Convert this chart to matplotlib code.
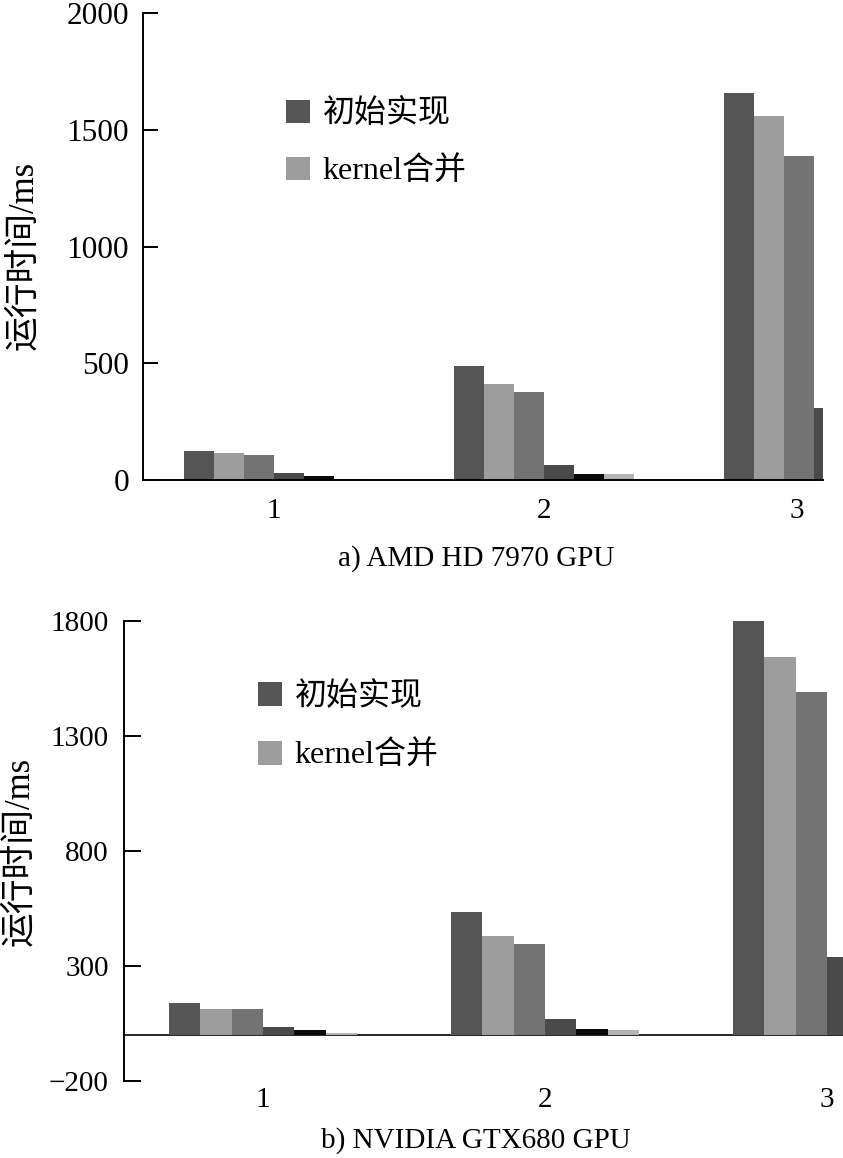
import numpy as np
import matplotlib
matplotlib.use('Agg')
import matplotlib.pyplot as plt
from matplotlib.transforms import ScaledTranslation

plt.rcParams['font.family'] = ['Liberation Serif', 'Noto Sans CJK SC']
plt.rcParams['axes.unicode_minus'] = True

# data (ms), one list per bar series
groups = ['1', '2', '3']
legend_labels = ['初始实现', 'kernel合并']
amd_s1 = [124, 488, 1656]
amd_s2 = [114, 410, 1559]
amd_s3 = [107, 376, 1389]
amd_s4 = [29, 63, 310]
amd_s5 = [17, 24, 110]
amd_s6 = [3, 24, 95]
nv_s1 = [140, 534, 1799]
nv_s2 = [114, 429, 1642]
nv_s3 = [114, 394, 1492]
nv_s4 = [35, 71, 338]
nv_s5 = [22, 28, 120]
nv_s6 = [7, 23, 100]
amd_ticks = [0, 500, 1000, 1500, 2000]
nv_ticks = [-200, 300, 800, 1300, 1800]

colors = ['#555555', '#9d9d9d', '#737373', '#4a4a4a', '#0a0a0a', '#b3b3b3']
fs = 21
w = 1.0 / 9

fig = plt.figure(figsize=(8.43, 11.58), dpi=100)
ax1 = fig.add_axes([143/843, (1158-480)/1158, 680/843, 467/1158])
ax2 = fig.add_axes([124/843, (1158-1081)/1158, 719/843, 460/1158])

x = np.arange(1, len(groups) + 1)

def draw(ax, series):
    bars = []
    for i, vals in enumerate(series):
        b = ax.bar(x + (i - 2.5) * w, vals, width=w, color=colors[i], linewidth=0, zorder=2)
        bars.append(b)
    return bars

bars1 = draw(ax1, [amd_s1, amd_s2, amd_s3, amd_s4, amd_s5, amd_s6])
bars2 = draw(ax2, [nv_s1, nv_s2, nv_s3, nv_s4, nv_s5, nv_s6])

# top panel
ax1.set_xlim(0.515, 3.033)
ax1.set_ylim(0, 2000)
ax1.set_yticks(amd_ticks)
ax1.set_yticklabels([str(t) for t in amd_ticks], fontsize=22.5)
ax1.set_xticks(x)
ax1.set_xticklabels(groups, fontsize=fs)
ax1.tick_params(axis='y', direction='in', length=11, width=1.4, pad=10)
ax1.tick_params(axis='x', length=0, pad=13)
ax1.spines['top'].set_visible(False)
ax1.spines['right'].set_visible(False)
ax1.spines['left'].set_linewidth(1.4)
ax1.spines['bottom'].set_linewidth(1.4)
ax1.set_ylabel('运行时间/ms', fontsize=25)
ax1.yaxis.set_label_coords(-0.151, 0.48)
ax1.set_xlabel('a) AMD HD 7970 GPU', fontsize=fs)
ax1.xaxis.set_label_coords(0.49, -0.14)
lab3 = ax1.get_xticklabels()[2]
lab3.set_transform(lab3.get_transform() + ScaledTranslation(-0.17, 0, fig.dpi_scale_trans))
ax1.legend([bars1[0], bars1[1]], legend_labels, loc='upper left', bbox_to_anchor=(0.21, 0.815),
           frameon=False, fontsize=23, handlelength=0.75, handleheight=0.75,
           handletextpad=0.4, labelspacing=0.85, borderpad=0, borderaxespad=0)

# bottom panel
ax2.set_xlim(0.507, 3.057)
ax2.set_ylim(-200, 1800)
ax2.set_yticks(nv_ticks)
ax2.set_yticklabels([str(t).replace('-', '\u2212') for t in nv_ticks], fontsize=fs)
ax2.set_xticks(x)
ax2.set_xticklabels(groups, fontsize=fs)
ax2.tick_params(axis='y', direction='in', length=12, width=1.4, pad=11)
ax2.tick_params(axis='x', length=0, pad=4)
ax2.axhline(0, color='black', linewidth=1.2, zorder=1)
for s in ['top', 'right', 'bottom']:
    ax2.spines[s].set_visible(False)
ax2.spines['left'].set_linewidth(1.4)
ax2.set_ylabel('运行时间/ms', fontsize=25)
ax2.yaxis.set_label_coords(-0.122, 0.5)
ax2.set_xlabel('b) NVIDIA GTX680 GPU', fontsize=fs)
ax2.xaxis.set_label_coords(0.49, -0.1)
ax2.legend([bars2[0], bars2[1]], legend_labels, loc='upper left', bbox_to_anchor=(0.186, 0.867),
           frameon=False, fontsize=23, handlelength=0.75, handleheight=0.75,
           handletextpad=0.4, labelspacing=0.9, borderpad=0, borderaxespad=0)

plt.savefig('out.png', dpi=100)
